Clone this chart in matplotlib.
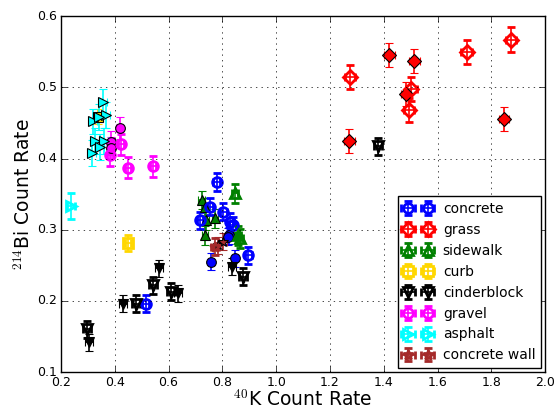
import numpy as np
import matplotlib
matplotlib.use('Agg')
from matplotlib import pyplot as plt

plt.style.use('classic')
plt.rcParams['mathtext.fontset'] = 'cm'

materials = ['concrete', 'grass', 'sidewalk', 'curb', 'cinderblock', 'gravel', 'asphalt', 'concrete wall']
colors = ['blue', 'red', 'green', 'gold', 'black', 'magenta', 'cyan', 'brown']
markers = ['o', 'D', '^', 's', 'v', 'o', '>', '*']

# open-marker measurements (x = 40K rate, y = 214Bi rate)
open_x = {
    'concrete': [0.779, 0.754, 0.804, 0.717, 0.828, 0.838, 0.897, 0.515],
    'grass': [1.275, 1.709, 1.873, 1.502, 1.494],
    'sidewalk': [0.847, 0.866, 0.859],
    'curb': [0.450],
    'cinderblock': [0.479, 0.541, 0.609, 0.298, 0.878, 1.378],
    'gravel': [0.424, 0.383, 0.449, 0.542],
    'asphalt': [0.237],
    'concrete wall': [0.773],
}
open_y = {
    'concrete': [0.367, 0.332, 0.325, 0.313, 0.311, 0.306, 0.264, 0.196],
    'grass': [0.515, 0.550, 0.567, 0.498, 0.468],
    'sidewalk': [0.351, 0.288, 0.292],
    'curb': [0.281],
    'cinderblock': [0.196, 0.222, 0.213, 0.160, 0.234, 0.417],
    'gravel': [0.420, 0.405, 0.387, 0.389],
    'asphalt': [0.333],
    'concrete wall': [0.276],
}
# filled-marker measurements
fill_x = {
    'concrete': [0.757, 0.826, 0.822, 0.847],
    'grass': [1.421, 1.514, 1.483, 1.272, 1.847],
    'sidewalk': [0.723, 0.739, 0.773, 0.736, 0.736],
    'curb': [0.338],
    'cinderblock': [0.432, 0.566, 0.636, 0.305, 0.835],
    'gravel': [0.418, 0.387, 0.387],
    'asphalt': [0.356, 0.368, 0.319, 0.341, 0.325, 0.360, 0.315, 0.345],
    'concrete wall': [0.785, 0.804],
}
fill_y = {
    'concrete': [0.255, 0.292, 0.290, 0.260],
    'grass': [0.545, 0.537, 0.491, 0.425, 0.456],
    'sidewalk': [0.342, 0.313, 0.316, 0.292, 0.332],
    'curb': [0.459],
    'cinderblock': [0.196, 0.246, 0.211, 0.142, 0.248],
    'gravel': [0.443, 0.423, 0.415],
    'asphalt': [0.480, 0.461, 0.452, 0.458, 0.425, 0.425, 0.408, 0.416],
    'concrete wall': [0.278, 0.283],
}
x_err = {'concrete': 0.012, 'grass': 0.02, 'sidewalk': 0.012, 'curb': 0.012,
         'cinderblock': 0.015, 'gravel': 0.012, 'asphalt': 0.015, 'concrete wall': 0.015}
y_err = {'concrete': 0.012, 'grass': 0.017, 'sidewalk': 0.013, 'curb': 0.011,
         'cinderblock': 0.012, 'gravel': 0.015, 'asphalt': 0.018, 'concrete wall': 0.012}

fig = plt.figure(figsize=(5.54, 4.13), dpi=100)
ax = fig.add_axes([0.110, 0.099, 0.874, 0.862])

for m, c, mk in zip(materials, colors, markers):
    ax.errorbar(fill_x[m], fill_y[m], xerr=x_err[m], yerr=y_err[m], fmt=mk,
                color=c, ecolor=c, mfc=c, mec='k', mew=0.8, ms=7,
                elinewidth=1.2, capsize=3, capthick=1.2)
for m, c, mk in zip(materials, colors, markers):
    ax.errorbar(open_x[m], open_y[m], xerr=x_err[m], yerr=y_err[m], fmt=mk,
                color=c, ecolor=c, mfc='none', mec=c, mew=2, ms=7,
                elinewidth=1.2, capsize=3, capthick=1.2, label=m)

ax.set_xlim(0.2, 2.0)
ax.set_ylim(0.1, 0.6)
ax.set_xticks(np.arange(0.2, 2.01, 0.2))
ax.set_yticks(np.arange(0.1, 0.61, 0.1))
ax.tick_params(axis='x', labelsize=9, pad=3)
ax.tick_params(axis='y', labelsize=9, pad=3)
ax.grid(True)
ax.set_xlabel(r'$^{40}$K Count Rate', fontsize=13.5, labelpad=0)
ax.set_ylabel(r'$^{214}$Bi Count Rate', fontsize=13.5, labelpad=2)
ax.legend(loc='lower right', numpoints=2, fontsize=10, borderaxespad=0.3)

fig.savefig('out.png', dpi=100)
